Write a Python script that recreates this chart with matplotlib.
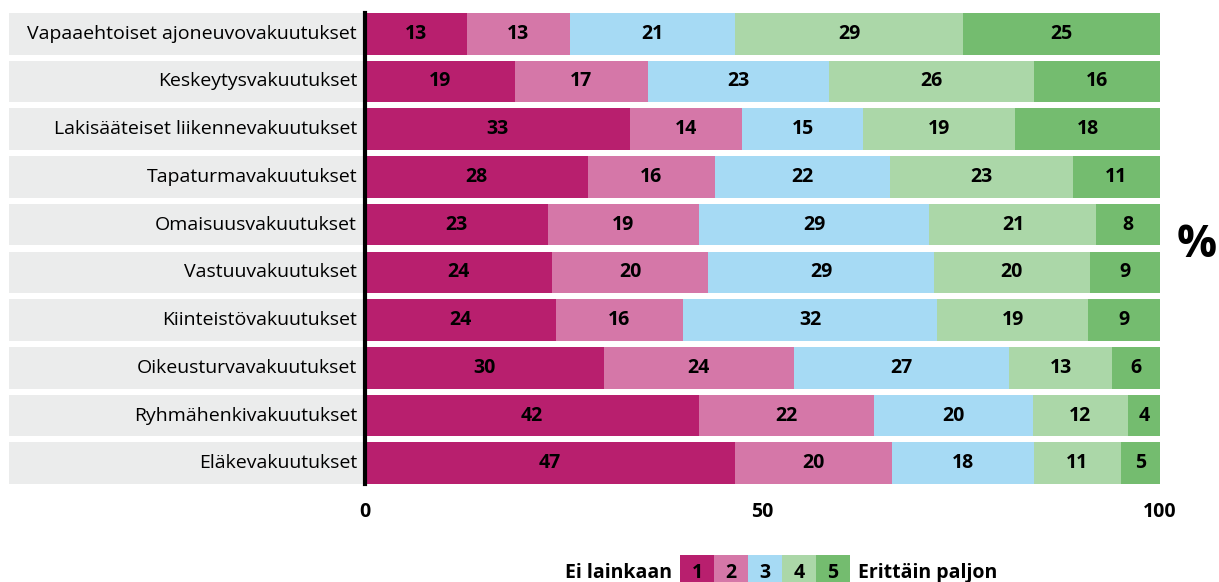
import numpy as np
import matplotlib.pyplot as plt
from matplotlib.patches import Rectangle

categories = [
    "Vapaaehtoiset ajoneuvovakuutukset",
    "Keskeytysvakuutukset",
    "Lakisääteiset liikennevakuutukset",
    "Tapaturmavakuutukset",
    "Omaisuusvakuutukset",
    "Vastuuvakuutukset",
    "Kiinteistövakuutukset",
    "Oikeusturvavakuutukset",
    "Ryhmähenkivakuutukset",
    "Eläkevakuutukset",
]
s1 = [13, 19, 33, 28, 23, 24, 24, 30, 42, 47]
s2 = [13, 17, 14, 16, 19, 20, 16, 24, 22, 20]
s3 = [21, 23, 15, 22, 29, 29, 32, 27, 20, 18]
s4 = [29, 26, 19, 23, 21, 20, 19, 13, 12, 11]
s5 = [25, 16, 18, 11, 8, 9, 9, 6, 4, 5]
levels = ["1", "2", "3", "4", "5"]
colors = ["#B81F6E", "#D577A8", "#A6DAF4", "#ABD7A8", "#74BC6F"]

plt.rcParams['font.family'] = ['Open Sans', 'DejaVu Sans']

fig = plt.figure(figsize=(12.19, 5.82), dpi=100)
ax = fig.add_axes([365 / 1219, 1 - 484 / 582, 795 / 1219, 471 / 582])

data = np.array([s1, s2, s3, s4, s5], dtype=float)
# rows are rounded percentages; rescale each row so the bar spans 0..100
shares = data / data.sum(axis=0) * 100
y = np.arange(len(categories))
h = 0.87

left = np.zeros(len(categories))
for vals, raw, col in zip(shares, data, colors):
    ax.barh(y, vals, left=left, height=h, color=col, edgecolor='none')
    for yi, l, v, r in zip(y, left, vals, raw):
        ax.text(l + v / 2, yi, f"{int(r)}", ha='center', va='center',
                fontsize=14, fontweight='bold', color='black')
    left += vals

# grey label boxes left of the axis
for yi, name in zip(y, categories):
    ax.add_patch(Rectangle((-44.8, yi - h / 2), 44.6, h, facecolor='#EBECEC',
                           edgecolor='none', clip_on=False, zorder=0))
    ax.text(-1.0, yi, name, ha='right', va='center', fontsize=14, color='black')

ax.set_xlim(0, 100)
ax.set_ylim(len(categories) - 1 + h / 2, -h / 2)
ax.set_yticks([])
ax.set_xticks([0, 50, 100])
ax.set_xticklabels(["0", "50", "100"], fontsize=14, fontweight='bold')
ax.tick_params(axis='x', length=0, pad=13)
for side in ['top', 'right', 'bottom']:
    ax.spines[side].set_visible(False)
ax.spines['left'].set_linewidth(3)
ax.spines['left'].set_color('black')

fig.text(1197 / 1219, 1 - 245 / 582, "%", ha='center', va='center',
         fontsize=32, fontweight='bold')

# legend strip
bw = 34 / 1219
bx = 680 / 1219
by = 1 - 582 / 582
bh = 27 / 582
for i, (lab, col) in enumerate(zip(levels, colors)):
    fig.patches.append(Rectangle((bx + i * bw, by), bw, bh, transform=fig.transFigure,
                                 facecolor=col, edgecolor='none'))
    fig.text(bx + i * bw + bw / 2, by + bh * 0.35, lab, ha='center', va='center',
             fontsize=14, fontweight='bold')
fig.text(bx - 8 / 1219, by + bh * 0.35, "Ei lainkaan", ha='right', va='center',
         fontsize=14, fontweight='bold')
fig.text(bx + 5 * bw + 8 / 1219, by + bh * 0.35, "Erittäin paljon", ha='left',
         va='center', fontsize=14, fontweight='bold')

fig.savefig("out.png", dpi=100)
